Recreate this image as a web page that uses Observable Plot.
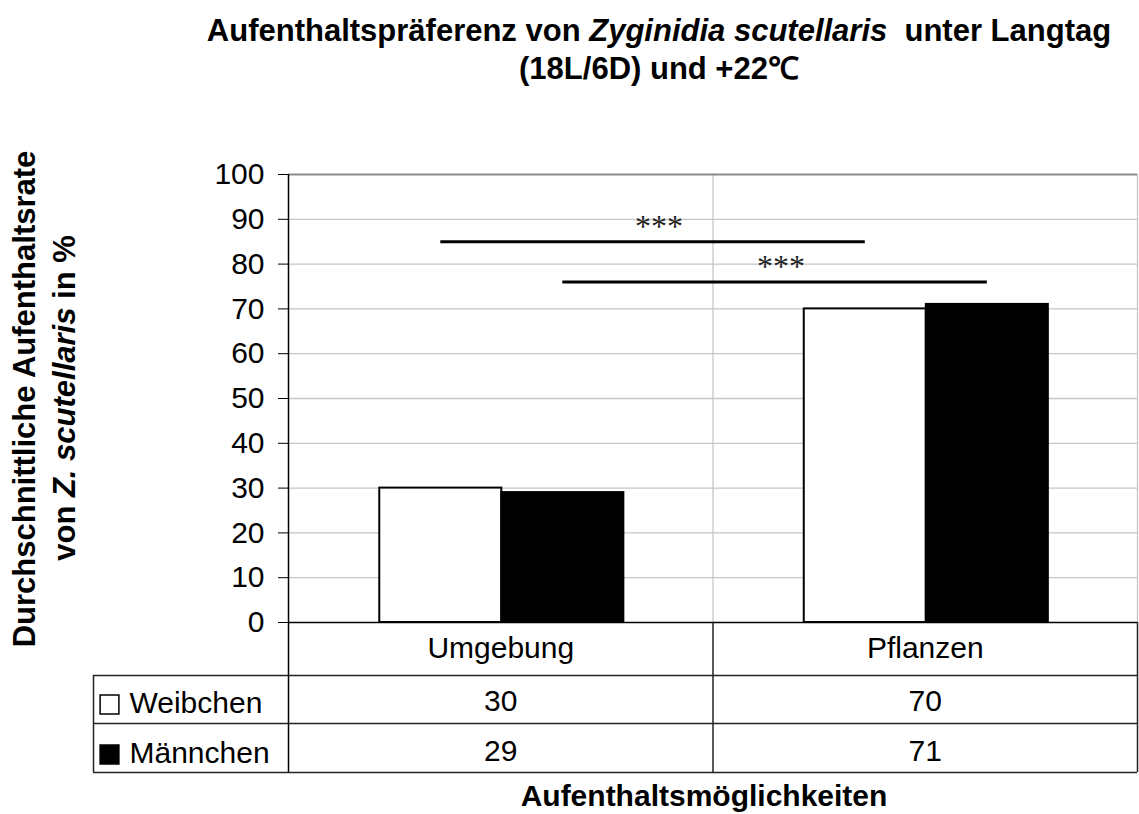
<!DOCTYPE html>
<html>
<head>
<meta charset="utf-8">
<script src="https://cdn.jsdelivr.net/npm/d3@7"></script>
<script src="https://cdn.jsdelivr.net/npm/@observablehq/plot@0.6"></script>
<style>
  body { margin: 0; background: #fff; }
  #chart svg { display: block; }
</style>
</head>
<body>
<div id="chart"></div>
<script>
// ---- data ----
const categories = ["Umgebung", "Pflanzen"];
const seriesNames = ["Weibchen", "Männchen"];
const seriesFills = ["white", "black"];
const weibchen = [30, 70];
const maennchen = [29, 71];
const yTicks = [0, 10, 20, 30, 40, 50, 60, 70, 80, 90, 100];
const sigSeries = ["Weibchen", "Männchen"];
const sigLevels = [85, 76];
const sigLabels = ["***", "***"];

const seriesValues = { "Weibchen": weibchen, "Männchen": maennchen };

// ---- layout (category units / pixels) ----
const W = 1139, H = 814;
const mLeft = 288, mRight = 2, mTop = 174, mBottom = 192;
const frameH = H - mTop - mBottom;
const groupInset = 0.215, barW = 0.2875;
const rowLineDy = [53, 101, 150];
const rowTextDy = [26, 79, 129];
const tableLeft = -195;
const FONT = "'Liberation Sans', Arial, Helvetica, sans-serif";

const barX1 = (i, j) => i + groupInset + j * barW;
const bars = [];
categories.forEach((c, i) => seriesNames.forEach((s, j) => bars.push({
  category: c, series: s, value: seriesValues[s][i],
  x1: barX1(i, j), x2: barX1(i, j + 1), fill: seriesFills[j]
})));
const barCenter = (cat, s) => {
  const b = bars.find(d => d.category === cat && d.series === s);
  return (b.x1 + b.x2) / 2;
};
const sig = sigSeries.map((s, k) => ({
  x1: barCenter(categories[0], s), x2: barCenter(categories[1], s),
  y: sigLevels[k], label: sigLabels[k]
}));
const catCells = categories.map((c, i) => ({ x: i + 0.5, text: c }));

const tableTextMarks = seriesNames.flatMap((s, j) => [
  Plot.text(categories.map((c, i) => ({ x: i + 0.5, text: String(seriesValues[s][i]) })),
    { x: "x", text: "text", frameAnchor: "bottom", lineAnchor: "middle", dy: rowTextDy[j + 1], fontSize: 30, fill: "black" }),
  Plot.text([s], { x: () => 0, text: d => d, frameAnchor: "bottom", lineAnchor: "middle", dx: -159, dy: rowTextDy[j + 1] + 2,
    textAnchor: "start", fontSize: 30, fill: "black" }),
  Plot.dot([s], { x: () => 0, frameAnchor: "bottom", dx: -179, dy: rowTextDy[j + 1] + 3,
    symbol: "square", r: 10.6, fill: seriesFills[j], stroke: "black", strokeWidth: 1.5 })
]);

const chart = Plot.plot({
  width: W, height: H,
  marginLeft: mLeft, marginRight: mRight, marginTop: mTop, marginBottom: mBottom,
  x: { domain: [0, categories.length], axis: null },
  y: { domain: [0, 100], axis: null },
  style: { fontFamily: FONT, fontSize: "30px", background: "white", color: "black" },
  marks: [
    Plot.gridY(yTicks.filter(t => t > 0 && t < 100), { stroke: "#c6c6c6", strokeOpacity: 1, strokeWidth: 1.3 }),
    Plot.ruleX([1], { stroke: "#c6c6c6", strokeWidth: 1.3 }),
    Plot.ruleX([categories.length], { stroke: "#c6c6c6", strokeWidth: 1.3 }),
    Plot.ruleY([100], { stroke: "#8a8a8a", strokeWidth: 2 }),
    Plot.rect(bars, { x1: "x1", x2: "x2", y1: 0, y2: "value", fill: "fill", stroke: "black", strokeWidth: 2 }),
    Plot.ruleY(sig, { x1: "x1", x2: "x2", y: "y", stroke: "black", strokeWidth: 3 }),
    Plot.text(sig, { x: d => (d.x1 + d.x2) / 2, y: "y", text: "label", dy: -15, dx: 6,
      fontFamily: "'Liberation Serif', 'Times New Roman', serif", fontSize: 32, fill: "#222" }),
    Plot.axisY({ ticks: yTicks, tickSize: 10, tickPadding: 14, label: null, fontSize: 30, stroke: "black", fill: "black" }),
    Plot.ruleX([0], { stroke: "black", strokeWidth: 1.5, insetBottom: -rowLineDy[2] }),
    Plot.ruleY([0], { stroke: "black", strokeWidth: 1.5 }),
    // table grid
    ...rowLineDy.map(dy => Plot.ruleY([0], { dy, insetLeft: tableLeft, stroke: "#222", strokeWidth: 1.5 })),
    Plot.ruleX([1, categories.length], { insetTop: frameH, insetBottom: -rowLineDy[2], stroke: "#222", strokeWidth: 1.5 }),
    Plot.ruleX([0], { dx: tableLeft, insetTop: frameH + rowLineDy[0], insetBottom: -rowLineDy[2], stroke: "#222", strokeWidth: 1.5 }),
    Plot.text(catCells, { x: "x", text: "text", frameAnchor: "bottom", lineAnchor: "middle", dy: rowTextDy[0], fontSize: 30, fill: "black" }),
    ...tableTextMarks
  ]
});

document.getElementById("chart").appendChild(chart);

// ---- titles ----
const svg = d3.select(chart);
const t1 = svg.append("text").attr("x", 659).attr("y", 41).attr("text-anchor", "middle")
  .attr("font-family", FONT).attr("font-weight", "bold").attr("font-size", 31).attr("fill", "black");
t1.append("tspan").text("Aufenthaltspräferenz von ");
t1.append("tspan").attr("font-style", "italic").text("Zyginidia scutellaris");
t1.append("tspan").text("\u00a0 unter Langtag");
svg.append("text").attr("x", 659).attr("y", 79).attr("text-anchor", "middle")
  .attr("font-family", FONT).attr("font-weight", "bold").attr("font-size", 31).attr("fill", "black")
  .text("(18L/6D) und +22\u2103");

const ya = svg.append("text").attr("transform", "translate(35,399) rotate(-90)").attr("text-anchor", "middle")
  .attr("font-family", FONT).attr("font-weight", "bold").attr("font-size", 31).attr("fill", "black");
ya.append("tspan").text("Durchschnittliche Aufenthaltsrate");
const yb = svg.append("text").attr("transform", "translate(75,398) rotate(-90)").attr("text-anchor", "middle")
  .attr("font-family", FONT).attr("font-weight", "bold").attr("font-size", 31).attr("fill", "black");
yb.append("tspan").text("von ");
yb.append("tspan").attr("font-style", "italic").text("Z. scutellaris");
yb.append("tspan").text(" in %");

svg.append("text").attr("x", 704).attr("y", 806).attr("text-anchor", "middle")
  .attr("font-family", FONT).attr("font-weight", "bold").attr("font-size", 30).attr("fill", "black")
  .text("Aufenthaltsmöglichkeiten");
</script>
</body>
</html>
